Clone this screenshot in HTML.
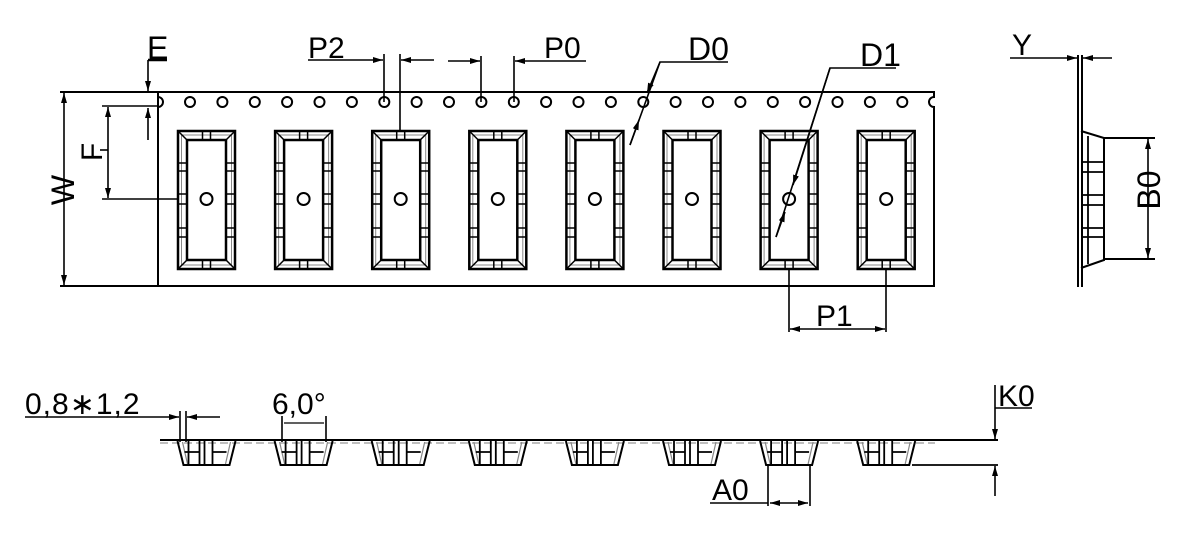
<!DOCTYPE html>
<html><head><meta charset="utf-8"><style>
html,body{margin:0;padding:0;background:#fff;}
svg{display:block}
text{font-family:"Liberation Sans",sans-serif;fill:#000;}
</style></head><body>
<svg width="1200" height="541" viewBox="0 0 1200 541" xmlns="http://www.w3.org/2000/svg">
<defs>
<marker id="a" viewBox="0 0 10 6" refX="10" refY="3" markerWidth="10" markerHeight="6" orient="auto-start-reverse" markerUnits="userSpaceOnUse"><path d="M0,0L10,3L0,6z" fill="#000"/></marker>
<g id="pk">
 <rect x="-28.5" y="131" width="57" height="138" fill="none" stroke="#000" stroke-width="2.5"/>
 <rect x="-19.5" y="140" width="39" height="120" fill="none" stroke="#000" stroke-width="2.5"/>
 <rect x="-25" y="135" width="50" height="130" fill="none" stroke="#888" stroke-width="1"/>
 <path d="M-28.5,131L-19.5,140M28.5,131L19.5,140M-28.5,269L-19.5,260M28.5,269L19.5,260" stroke="#000" stroke-width="1.5"/>
 <path d="M-4,131V140M4,131V140M-4,260V269M4,260V269" stroke="#000" stroke-width="1.5"/>
 <path d="M-28.5,163H-19.5M-28.5,171H-19.5M28.5,163H19.5M28.5,171H19.5M-28.5,194H-19.5M-28.5,204H-19.5M28.5,194H19.5M28.5,204H19.5M-28.5,228H-19.5M-28.5,237H-19.5M28.5,228H19.5M28.5,237H19.5" stroke="#000" stroke-width="1.5"/>
 <circle cx="0" cy="199" r="6" fill="none" stroke="#000" stroke-width="2"/>
</g>
<g id="bp">
 <path d="M-29,441L-23,465H23L29,441" fill="none" stroke="#000" stroke-width="2"/>
 <path d="M-24,442L-19,464M24,442L19,464" stroke="#888" stroke-width="1.2"/>
 <path d="M-18,441V465M-7,441V465M-2,441V465M6,441V465M-22,452H-7M6,452H20" stroke="#000" stroke-width="1.8"/>
</g>
</defs>
<g stroke="#000" fill="none" stroke-width="2">
<path d="M60,92H934V97A5,5 0 0 0 934,107V286H60"/>
<path d="M158,92V286"/>
<path d="M158,97A5,5 0 0 1 158,107"/>
</g>
<g fill="none" stroke="#000" stroke-width="2">
<circle cx="190" cy="102" r="5"/><circle cx="222.4" cy="102" r="5"/><circle cx="254.8" cy="102" r="5"/><circle cx="287.1" cy="102" r="5"/><circle cx="319.5" cy="102" r="5"/><circle cx="351.9" cy="102" r="5"/><circle cx="384.3" cy="102" r="5"/><circle cx="416.6" cy="102" r="5"/><circle cx="449" cy="102" r="5"/><circle cx="481.4" cy="102" r="5"/><circle cx="513.8" cy="102" r="5"/><circle cx="546.1" cy="102" r="5"/><circle cx="578.5" cy="102" r="5"/><circle cx="610.9" cy="102" r="5"/><circle cx="643.3" cy="102" r="5"/><circle cx="675.6" cy="102" r="5"/><circle cx="708" cy="102" r="5"/><circle cx="740.4" cy="102" r="5"/><circle cx="772.8" cy="102" r="5"/><circle cx="805.1" cy="102" r="5"/><circle cx="837.5" cy="102" r="5"/><circle cx="869.9" cy="102" r="5"/><circle cx="902.3" cy="102" r="5"/>
</g>
<use href="#pk" x="206.5"/><use href="#pk" x="303.6"/><use href="#pk" x="400.7"/><use href="#pk" x="497.8"/><use href="#pk" x="594.9"/><use href="#pk" x="692"/><use href="#pk" x="789.1"/><use href="#pk" x="886.2"/>

<g stroke="#000" stroke-width="1.6" fill="none">
<path d="M64,93V285" marker-start="url(#a)" marker-end="url(#a)"/>
<path d="M102,106H157M102,199H178"/>
<path d="M108,107V198" marker-start="url(#a)" marker-end="url(#a)"/>
<path d="M100,150H108"/>
<path d="M148,60V91" marker-end="url(#a)"/>
<path d="M148,140V108" marker-end="url(#a)"/>
<path d="M148,60H167" stroke-width="2.5"/>
<path d="M308,60H383" marker-end="url(#a)"/>
<path d="M434,60H401" marker-end="url(#a)"/>
<path d="M384,54V102M400,54V131"/>
<path d="M448,61H480" marker-end="url(#a)"/>
<path d="M586,61H515" marker-end="url(#a)"/>
<path d="M481,56V102M514,56V102"/>
<!-- D0 -->
<path d="M728,62H660L630,145"/>
<path d="M660,62L647,93" marker-end="url(#a)"/>
<path d="M630,145L639,120" marker-end="url(#a)"/>
<!-- D1 -->
<path d="M896,68H830L776,237"/>
<path d="M830,68L793,185" marker-end="url(#a)"/>
<path d="M776,237L785,212" marker-end="url(#a)"/>
<!-- P1 -->
<path d="M789,269V332M886,269V332"/>
<path d="M790,329H885" marker-start="url(#a)" marker-end="url(#a)"/>
<!-- side view -->
<path d="M1078,55V287M1082,55V287" stroke-width="2"/>
<path d="M1081,131L1104,138V260L1081,268M1104,138H1155M1104,259H1155" stroke-width="2"/>
<path d="M1088,136V264M1082,162H1104M1082,172H1104M1082,195H1104M1082,205H1104M1082,228H1104M1082,237H1104" stroke-width="1.8"/>
<path d="M1148,139V258" marker-start="url(#a)" marker-end="url(#a)"/>
<path d="M1010,58H1077" marker-end="url(#a)"/>
<path d="M1112,58H1083" marker-end="url(#a)"/>
<!-- bottom view -->
<path d="M160,440H998" stroke-width="2"/>
<path d="M160,443H935" stroke="#999" stroke-width="1.2" stroke-dasharray="8,4"/>
<path d="M912,465H998" stroke-width="1.8"/>
<path d="M25,417H179" marker-end="url(#a)"/>
<path d="M220,417H187" marker-end="url(#a)"/>
<path d="M180,411V442M186,411V442"/>
<path d="M282,416V442M326,416V442"/>
<path d="M284,423H324" stroke-width="1.3"/>
<path d="M768,466V506M810,466V506"/>
<path d="M710,503H768"/>
<path d="M770,503H808" marker-start="url(#a)" marker-end="url(#a)"/>
<path d="M995,408H1032M995,385V439" marker-end="url(#a)"/>
<path d="M995,496V466" marker-end="url(#a)"/>
</g>
<use href="#bp" x="206.5"/><use href="#bp" x="303.6"/><use href="#bp" x="400.7"/><use href="#bp" x="497.8"/><use href="#bp" x="594.9"/><use href="#bp" x="692"/><use href="#bp" x="789.1"/><use href="#bp" x="886.2"/>

<g font-size="30">
<text x="147" y="59" font-size="32">E</text>
<text x="308" y="58">P2</text>
<text x="544" y="58">P0</text>
<text x="688" y="60" font-family="Liberation Serif" font-size="32">D0</text>
<text x="860" y="66" font-family="Liberation Serif" font-size="32">D1</text>
<text x="816" y="326">P1</text>
<text x="1012" y="55">Y</text>
<text x="998" y="406">K0</text>
<text x="712" y="500">A0</text>
<text x="25" y="414" letter-spacing="1">0,8∗1,2</text>
<text x="272" y="414">6,0°</text>
<text transform="translate(74,190) rotate(-90)" font-size="32" text-anchor="middle">W</text>
<text transform="translate(102,152) rotate(-90)" font-size="30" text-anchor="middle">F</text>
<text transform="translate(1160,190) rotate(-90)" font-size="32" text-anchor="middle" font-family="Liberation Serif">B0</text>
</g>
</svg>
</body></html>
